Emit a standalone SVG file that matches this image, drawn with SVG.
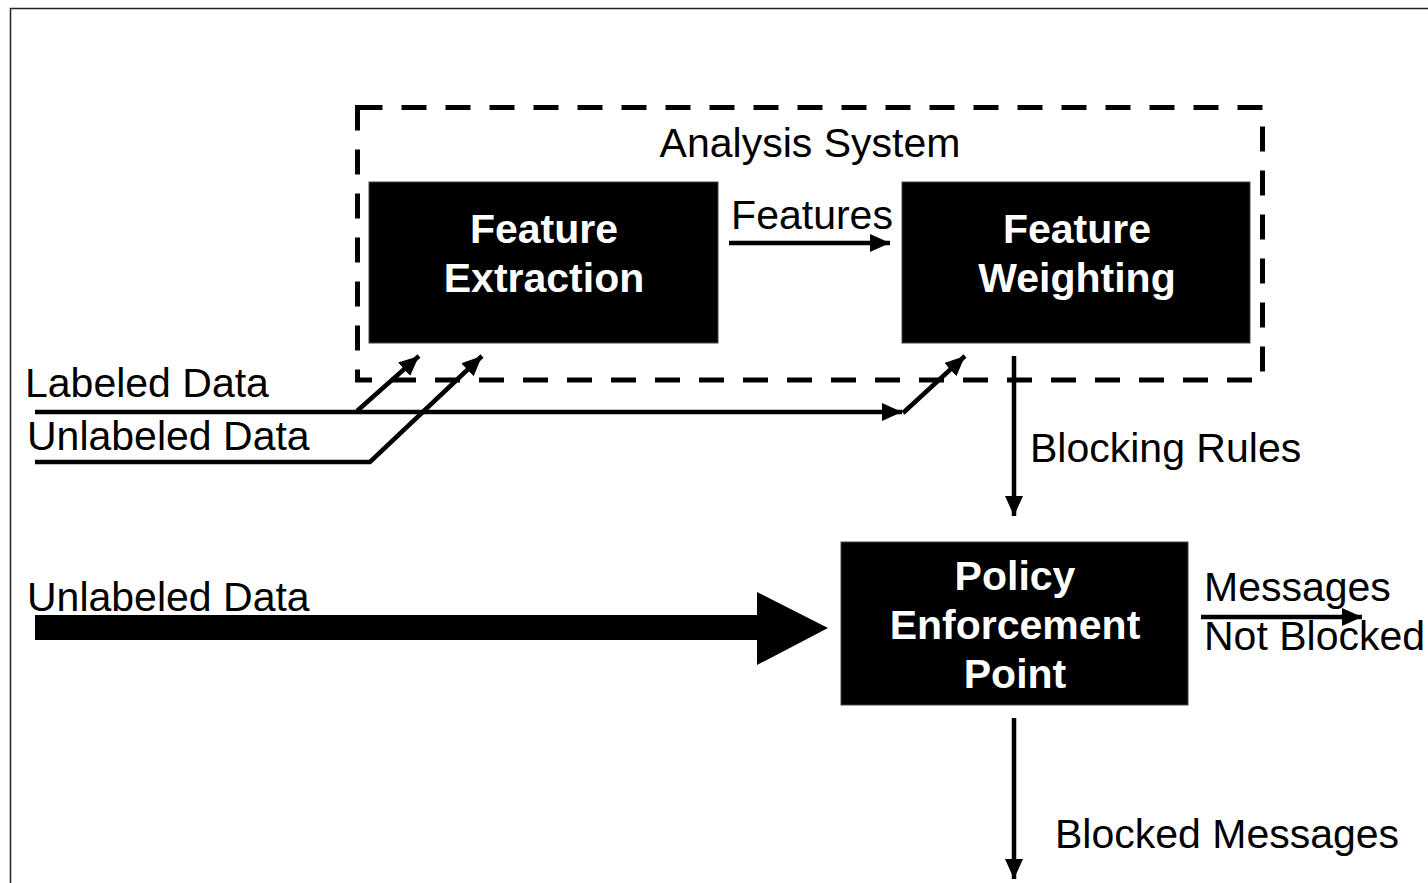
<svg xmlns="http://www.w3.org/2000/svg" width="1428" height="883" viewBox="0 0 1428 883">
<style>
.t{font-family:"Liberation Sans",Arial,sans-serif;font-size:41px;fill:#000}
.b{font-family:"Liberation Sans",Arial,sans-serif;font-size:41px;font-weight:bold;fill:#fff;text-anchor:middle}
.box{fill:#000;stroke:#444;stroke-width:1}
.c{fill:none;stroke:#000;stroke-width:4.5}
</style>
<defs>
<marker id="ah" markerUnits="userSpaceOnUse" markerWidth="24" markerHeight="20" refX="20" refY="9" orient="auto" viewBox="0 0 24 20">
<path d="M0,0 L20,9 L0,18 Z" fill="#000"/>
</marker>
</defs>
<rect x="10.5" y="8.5" width="1440" height="900" fill="#fff" stroke="#222" stroke-width="1.5"/>
<g id="analysis-system">
<rect x="357.5" y="107.5" width="905" height="272.5" fill="none" stroke="#000" stroke-width="5" stroke-dasharray="25 19"/>
<text class="t" x="810" y="157" text-anchor="middle">Analysis System</text>
</g>
<g id="feature-extraction">
<rect class="box" x="369" y="182" width="349" height="161"/>
<text class="b" x="544" y="243">Feature</text>
<text class="b" x="544" y="292">Extraction</text>
</g>
<g id="feature-weighting">
<rect class="box" x="902" y="182" width="348" height="161"/>
<text class="b" x="1077" y="243">Feature</text>
<text class="b" x="1077" y="292">Weighting</text>
</g>
<g id="policy-enforcement-point">
<rect class="box" x="841" y="542" width="347" height="163"/>
<text class="b" x="1015" y="590">Policy</text>
<text class="b" x="1015" y="639">Enforcement</text>
<text class="b" x="1015" y="688">Point</text>
</g>
<g id="connectors">
<path class="c" d="M35,412 H902" marker-end="url(#ah)"/>
<path class="c" d="M903,413 L965,356" marker-end="url(#ah)"/>
<path class="c" d="M357,411 L419,356" marker-end="url(#ah)"/>
<path class="c" d="M35,462 H370 L482,356" marker-end="url(#ah)"/>
<path class="c" d="M729,243 H890" marker-end="url(#ah)"/>
<path class="c" d="M1014,356 V516" marker-end="url(#ah)"/>
<path class="c" d="M1014,718 V879" marker-end="url(#ah)"/>
<path class="c" d="M1201,617 H1362" marker-end="url(#ah)"/>
<polygon points="35,615 757,615 757,592 828,628 757,665 757,640 35,640" fill="#000"/>
</g>
<g id="labels">
<text class="t" x="812" y="229" text-anchor="middle">Features</text>
<text class="t" x="25" y="397">Labeled Data</text>
<text class="t" x="27" y="450">Unlabeled Data</text>
<text class="t" x="27" y="611">Unlabeled Data</text>
<text class="t" x="1030" y="462">Blocking Rules</text>
<text class="t" x="1204" y="601">Messages</text>
<text class="t" x="1204" y="650">Not Blocked</text>
<text class="t" x="1055" y="848">Blocked Messages</text>
</g>
</svg>
